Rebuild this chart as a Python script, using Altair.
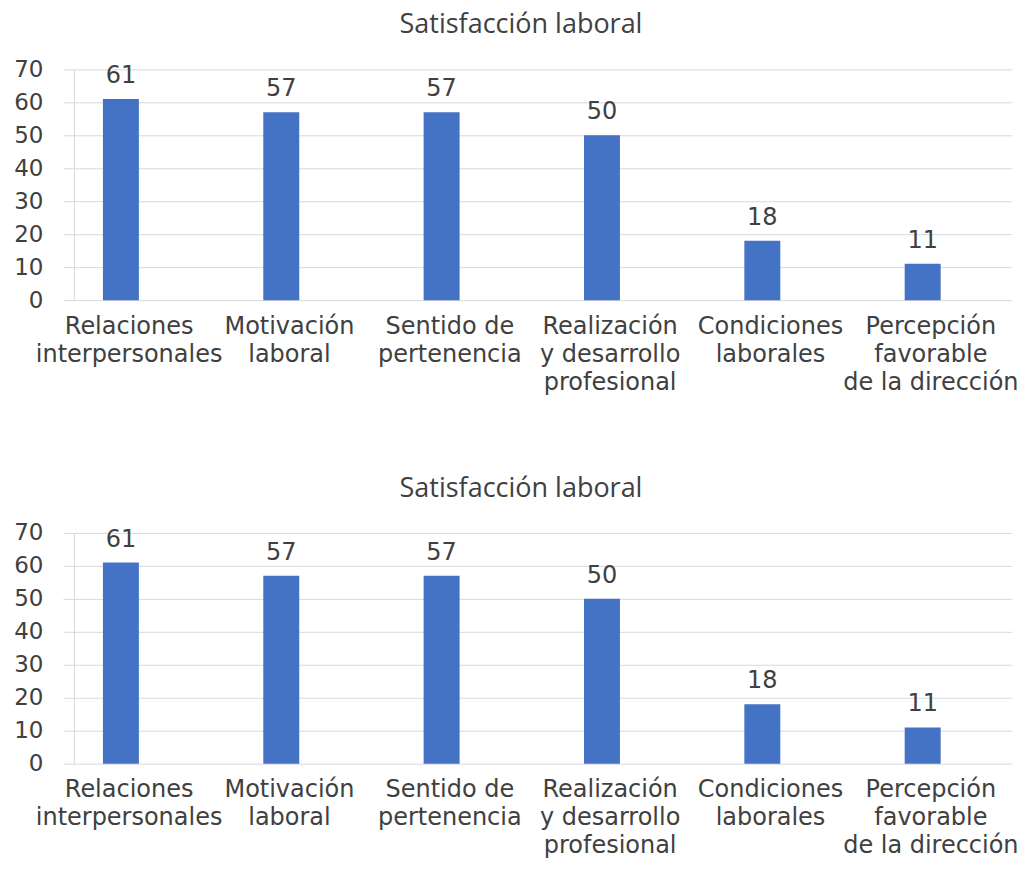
import altair as alt
import pandas as pd

categories = [
    "Relaciones|interpersonales",
    "Motivación|laboral",
    "Sentido de|pertenencia",
    "Realización|y desarrollo|profesional",
    "Condiciones|laborales",
    "Percepción|favorable|de la dirección",
]
values = [61, 57, 57, 50, 18, 11]
y_ticks = [0, 10, 20, 30, 40, 50, 60, 70]
chart_title = "Satisfacción laboral"

df = pd.DataFrame({"cat": categories, "val": values})

TEXT = "#404040"
GRID = "#D9D9D9"
FONT = "DejaVu Sans"
BAR_SHIFT = -21.2


def panel():
    base = alt.Chart(df).encode(
        x=alt.X(
            "cat:N",
            sort=categories,
            scale=alt.Scale(type="point", padding=0.425),
            axis=alt.Axis(
                title=None,
                labelExpr="split(datum.label, '|')",
                labelAngle=0,
                labelFontSize=24,
                labelFont=FONT,
                labelColor=TEXT,
                labelLineHeight=28,
                labelPadding=14,
                labelOffset=-13.5,
                labelAlign="center",
                labelBaseline="top",
                labelOverlap=False,
                labelLimit=0,
                ticks=False,
                domain=False,
                grid=False,
            ),
        ),
        y=alt.Y(
            "val:Q",
            scale=alt.Scale(domain=[0, 70], nice=False),
            axis=alt.Axis(
                title=None,
                values=y_ticks,
                labelFontSize=23,
                labelFont=FONT,
                labelColor=TEXT,
                labelPadding=20,
                tickSize=11,
                tickColor=GRID,
                domainColor=GRID,
                gridColor=GRID,
                gridWidth=1,
            ),
        ),
    )
    bars = base.mark_bar(size=36, color="#4472C4", xOffset=BAR_SHIFT)
    text = base.mark_text(
        dy=-16,
        baseline="alphabetic",
        xOffset=BAR_SHIFT,
        fontSize=24,
        font=FONT,
        color=TEXT,
    ).encode(text="val:Q")
    return (bars + text).properties(
        width=939,
        height=231,
        title=alt.TitleParams(
            chart_title,
            font="Open Sans",
            fontSize=27,
            fontWeight="normal",
            color=TEXT,
            anchor="middle",
            dx=-22,
            offset=19,
        ),
    )


chart = (
    alt.vconcat(panel(), panel(), spacing=81)
    .properties(padding={"left": 5, "top": 3, "right": 0, "bottom": 0})
    .configure_view(stroke=None)
)

chart.save("out.html", embed_options={"renderer": "svg", "actions": False})
